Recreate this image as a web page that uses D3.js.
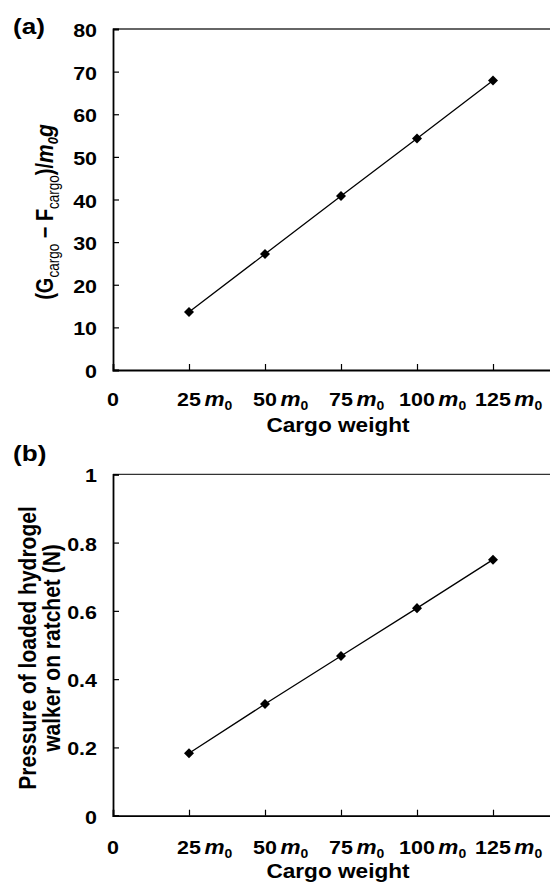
<!DOCTYPE html>
<html><head><meta charset="utf-8">
<script src="https://cdn.jsdelivr.net/npm/d3@7"></script>
<style>html,body{margin:0;padding:0;overflow:hidden;background:#fff}</style>
</head><body>
<script>
const cargo = [25, 50, 75, 100, 125];
const xTicks = [0, 25, 50, 75, 100, 125];
const forceValues = [13.6, 27.2, 40.8, 54.3, 67.9];
const forceTicks = [0, 10, 20, 30, 40, 50, 60, 70, 80];
const pressureValues = [0.183, 0.327, 0.468, 0.608, 0.750];
const pressureTicks = [0, 0.2, 0.4, 0.6, 0.8, 1];

const W = 550, H = 883, SX = 1.16;
const FONT = "'Liberation Sans', Arial, sans-serif";
const svg = d3.select("body").append("svg").attr("width", W).attr("height", H)
  .style("font-family", FONT).style("font-weight", "bold");

// horizontally stretched text holder
function holder(parent, x, y, rot) {
  return parent.append("g").attr("transform", `translate(${x},${y}) scale(${SX},1)` + (rot ? " rotate(-90)" : ""));
}

function panel(cfg) {
  const g = svg.append("g");
  const x = d3.scaleLinear().domain([0, 150]).range([113, 569]);
  const y = d3.scaleLinear().domain(cfg.yDomain).range([cfg.y0, cfg.y1]);

  g.append("line").attr("x1", x(0)).attr("x2", x(150)).attr("y1", y(cfg.yDomain[1])).attr("y2", y(cfg.yDomain[1]))
    .attr("stroke", "#333").attr("stroke-width", 1.3);

  const ya = g.append("g").attr("transform", `translate(${x(0)},0)`)
    .call(d3.axisRight(y).tickValues(cfg.yTicks).tickSize(6).tickFormat(""));
  ya.select(".domain").attr("stroke", "#000").attr("stroke-width", 1.8);
  ya.selectAll(".tick line").attr("stroke", "#000").attr("stroke-width", 1.2);
  cfg.yTicks.forEach(d => {
    holder(g, 97, y(d) + 8).append("text").attr("text-anchor", "end")
      .attr("font-size", 18.5).text(cfg.yFmt(d));
  });

  const xa = g.append("g").attr("transform", `translate(0,${y(0)})`)
    .call(d3.axisTop(x).tickValues(cargo).tickSize(6).tickFormat(""));
  xa.select(".domain").attr("stroke", "#000").attr("stroke-width", 1.8);
  xa.selectAll(".tick line").attr("stroke", "#000").attr("stroke-width", 1.2);

  xTicks.forEach(d => {
    const h = holder(g, x(d), cfg.xLabY);
    const num = h.append("text").attr("text-anchor", "middle").attr("font-size", 18.5).text(d);
    if (d === 0) return;
    const half = num.node().getComputedTextLength() / 2;
    const m = h.append("text").attr("x", half + 3).attr("font-size", 19.5);
    m.append("tspan").attr("font-style", "italic").text("m");
    m.append("tspan").attr("font-size", 12).attr("dy", 4).text("0");
  });

  holder(g, 338, cfg.titleY).append("text").attr("text-anchor", "middle")
    .attr("font-size", 19.5).text("Cargo weight");

  const pts = cargo.map((c, i) => [c, cfg.values[i]]);
  g.append("path").datum(pts)
    .attr("d", d3.line().x(d => x(d[0])).y(d => y(d[1])))
    .attr("fill", "none").attr("stroke", "#000").attr("stroke-width", 1.3);
  g.selectAll(".pt").data(pts).enter().append("path")
    .attr("transform", d => `translate(${x(d[0])},${y(d[1])})`)
    .attr("d", d3.symbol().type(d3.symbolDiamond2).size(64))
    .attr("fill", "#000");

  holder(g, 13, cfg.tagY).append("text").attr("font-size", 22.5).text(cfg.tag);
  return {x, y, g};
}

const a = panel({yDomain: [0, 80], y0: 370, y1: 29, yTicks: forceTicks, yFmt: d => String(d),
  values: forceValues, xLabY: 405.5, titleY: 432, tag: "(a)", tagY: 33.5});

const la = holder(a.g, 53, 212, true).append("text").attr("text-anchor", "middle").attr("font-size", 20);
la.append("tspan").text("(G");
la.append("tspan").attr("font-size", 13.5).attr("font-weight", "normal").attr("dy", 5).text("cargo");
la.append("tspan").attr("dy", -5).text(" \u2212 F");
la.append("tspan").attr("font-size", 13.5).attr("font-weight", "normal").attr("dy", 5).text("cargo");
la.append("tspan").attr("dy", -5).text(")/");
la.append("tspan").attr("font-style", "italic").attr("font-size", 21).text("m");
la.append("tspan").attr("font-style", "italic").attr("font-size", 13).attr("dy", 4).text("0");
la.append("tspan").attr("font-style", "italic").attr("font-size", 21).attr("dy", -4).text("g");

const b = panel({yDomain: [0, 1], y0: 815.7, y1: 474.3, yTicks: pressureTicks,
  yFmt: d => d === 0 ? "0" : (d === 1 ? "1" : d3.format(".1f")(d)),
  values: pressureValues, xLabY: 853.5, titleY: 878, tag: "(b)", tagY: 460.5});

holder(b.g, 36, 648, true).append("text").attr("text-anchor", "middle")
  .attr("font-size", 21).text("Pressure of loaded hydrogel");
holder(b.g, 60, 648, true).append("text").attr("text-anchor", "middle")
  .attr("font-size", 21).text("walker on ratchet (N)");
</script>
</body></html>
